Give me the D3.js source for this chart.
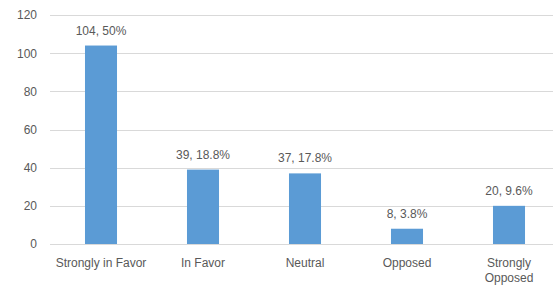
<!DOCTYPE html>
<html>
<head>
<meta charset="utf-8">
<script src="https://cdn.jsdelivr.net/npm/d3@7"></script>
<style>
  body { margin: 0; background: #fff; }
  text { font-family: "Liberation Sans", Arial, sans-serif; fill: #595959; }
</style>
</head>
<body>
<div class="canvas"></div>
<script>
// data
const categories = ["Strongly in Favor", "In Favor", "Neutral", "Opposed", "Strongly Opposed"]
const counts = [104, 39, 37, 8, 20]
const percents = ["50%", "18.8%", "17.8%", "3.8%", "9.6%"]
const yTicks = [0, 20, 40, 60, 80, 100, 120]

const width = 553, height = 287

const svg = d3.select(".canvas")
    .append("svg")
    .attr("width", width)
    .attr("height", height)

// scales
const x = d3.scaleBand()
    .domain(categories)
    .range([50, 560])
    .paddingInner(0.686)
    .paddingOuter(0.343)

const y = d3.scaleLinear()
    .domain([0, 120])
    .range([244, 15])

// gridlines
svg.append("g")
    .selectAll("line")
    .data(yTicks)
    .enter()
    .append("line")
        .attr("x1", 50)
        .attr("x2", 560)
        .attr("y1", d => Math.round(y(d)) + 0.5)
        .attr("y2", d => Math.round(y(d)) + 0.5)
        .attr("stroke", "#d9d9d9")
        .attr("stroke-width", 1)

// y axis labels
const yAxis = svg.append("g")
    .attr("transform", "translate(37, 0)")
    .call(d3.axisLeft(y).tickValues(yTicks).tickSize(0).tickPadding(0))
yAxis.select(".domain").remove()
yAxis.selectAll("text")
    .attr("font-size", 12)
    .attr("fill", "#595959")
    .style("font-family", "Liberation Sans, Arial, sans-serif")

// bars
svg.append("g")
    .selectAll("rect")
    .data(counts)
    .enter()
    .append("rect")
        .attr("x", (d, i) => x(categories[i]))
        .attr("y", d => y(d))
        .attr("width", x.bandwidth())
        .attr("height", d => y(0) - y(d))
        .attr("fill", "#5b9bd5")

// data labels
svg.append("g")
    .selectAll("text")
    .data(counts)
    .enter()
    .append("text")
        .attr("x", (d, i) => x(categories[i]) + x.bandwidth() / 2)
        .attr("y", d => y(d) - 11)
        .attr("text-anchor", "middle")
        .attr("font-size", 12)
        .text((d, i) => `${d}, ${percents[i]}`)

// category labels, wrap the long one
const wrap = { "Strongly Opposed": ["Strongly", "Opposed"] }
const cats = svg.append("g")
    .selectAll("text")
    .data(categories)
    .enter()
    .append("text")
        .attr("x", d => x(d) + x.bandwidth() / 2)
        .attr("y", 267)
        .attr("text-anchor", "middle")
        .attr("font-size", 12)

cats.each(function (d) {
    const lines = wrap[d] || [d]
    d3.select(this).selectAll("tspan")
        .data(lines)
        .enter()
        .append("tspan")
            .attr("x", x(d) + x.bandwidth() / 2)
            .attr("dy", (l, i) => i === 0 ? 0 : 15)
            .text(l => l)
})
</script>
</body>
</html>
